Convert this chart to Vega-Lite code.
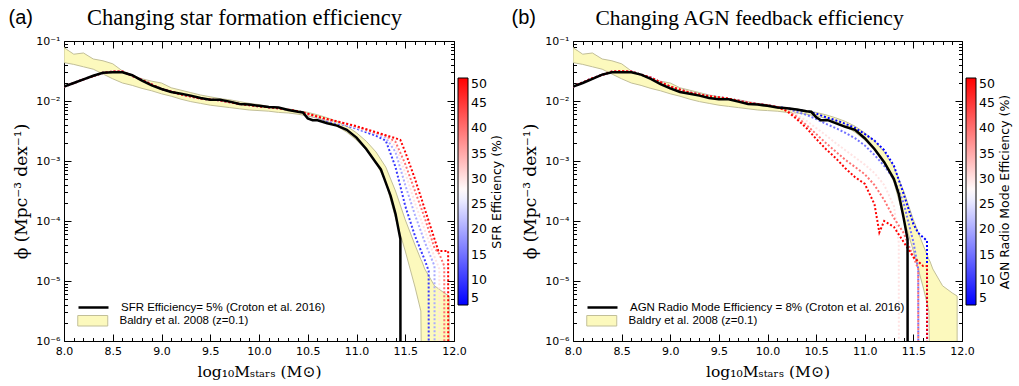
{
  "$schema": "https://vega.github.io/schema/vega-lite/v6.json",
  "background": "white",
  "padding": {"left": 7, "top": 5, "right": 3, "bottom": 5},
  "spacing": 5,
  "config": {
    "view": {"stroke": "black", "strokeWidth": 1},
    "axis": {"grid": false, "domain": false, "tickColor": "black", "labelColor": "black", "titleColor": "black", "labelOverlap": false, "labelFlush": false},
    "legend": {"labelColor": "black", "titleColor": "black", "layout": {"bottom-left": {"direction": "vertical", "margin": 2}}}
  },
  "resolve": {
    "scale": {"color": "independent", "fill": "independent", "stroke": "independent"},
    "legend": {"color": "independent", "fill": "independent", "stroke": "independent"}
  },
  "datasets": {
    "band": [
      {"m": 8.0, "lo": 4.365e-2, "hi": 7.762e-2}, {"m": 8.1, "lo": 4.074e-2, "hi": 6.026e-2}, {"m": 8.2, "lo": 3.715e-2, "hi": 6.310e-2},
      {"m": 8.3, "lo": 3.388e-2, "hi": 5.012e-2}, {"m": 8.4, "lo": 2.818e-2, "hi": 4.677e-2}, {"m": 8.5, "lo": 2.344e-2, "hi": 4.169e-2},
      {"m": 8.6, "lo": 1.995e-2, "hi": 3.162e-2}, {"m": 8.7, "lo": 1.820e-2, "hi": 2.692e-2}, {"m": 8.8, "lo": 1.622e-2, "hi": 2.344e-2},
      {"m": 8.9, "lo": 1.479e-2, "hi": 2.138e-2}, {"m": 9.0, "lo": 1.318e-2, "hi": 1.995e-2}, {"m": 9.1, "lo": 1.202e-2, "hi": 1.660e-2},
      {"m": 9.2, "lo": 1.072e-2, "hi": 1.514e-2}, {"m": 9.3, "lo": 9.772e-3, "hi": 1.380e-2}, {"m": 9.4, "lo": 9.120e-3, "hi": 1.259e-2},
      {"m": 9.5, "lo": 8.511e-3, "hi": 1.175e-2}, {"m": 9.6, "lo": 8.128e-3, "hi": 1.096e-2}, {"m": 9.7, "lo": 7.762e-3, "hi": 1.047e-2},
      {"m": 9.8, "lo": 7.413e-3, "hi": 9.772e-3}, {"m": 9.9, "lo": 7.079e-3, "hi": 9.120e-3}, {"m": 10.0, "lo": 6.918e-3, "hi": 8.710e-3},
      {"m": 10.1, "lo": 6.761e-3, "hi": 8.128e-3}, {"m": 10.2, "lo": 6.457e-3, "hi": 7.762e-3}, {"m": 10.3, "lo": 6.310e-3, "hi": 7.413e-3},
      {"m": 10.4, "lo": 6.026e-3, "hi": 6.918e-3}, {"m": 10.5, "lo": 5.623e-3, "hi": 6.457e-3}, {"m": 10.6, "lo": 5.129e-3, "hi": 5.888e-3},
      {"m": 10.7, "lo": 4.571e-3, "hi": 5.248e-3}, {"m": 10.8, "lo": 3.802e-3, "hi": 4.571e-3}, {"m": 10.9, "lo": 3.020e-3, "hi": 3.802e-3},
      {"m": 11.0, "lo": 2.239e-3, "hi": 2.951e-3}, {"m": 11.1, "lo": 1.514e-3, "hi": 2.138e-3}, {"m": 11.2, "lo": 9.333e-4, "hi": 1.413e-3},
      {"m": 11.3, "lo": 4.467e-4, "hi": 7.943e-4}, {"m": 11.4, "lo": 1.122e-4, "hi": 3.162e-4}, {"m": 11.5, "lo": 3.162e-5, "hi": 1.047e-4},
      {"m": 11.6, "lo": 7.943e-6, "hi": 3.981e-5}, {"m": 11.66, "lo": 3.162e-6, "hi": 2.291e-5}, {"m": 11.67, "lo": 1e-7, "hi": 2.138e-5},
      {"m": 11.7, "lo": 1e-7, "hi": 1.585e-5}, {"m": 11.8, "lo": 1e-7, "hi": 8.318e-6}, {"m": 11.9, "lo": 1e-7, "hi": 6.310e-6},
      {"m": 11.95, "lo": 1e-7, "hi": 5.623e-6}
    ],
    "sfr_black": [
      {"m": 8.0, "phi": 1.738e-2}, {"m": 8.1, "phi": 1.995e-2}, {"m": 8.2, "phi": 2.291e-2}, {"m": 8.3, "phi": 2.630e-2},
      {"m": 8.4, "phi": 2.951e-2}, {"m": 8.5, "phi": 3.020e-2}, {"m": 8.6, "phi": 3.020e-2}, {"m": 8.7, "phi": 2.692e-2},
      {"m": 8.8, "phi": 2.188e-2}, {"m": 8.9, "phi": 1.820e-2}, {"m": 9.0, "phi": 1.585e-2}, {"m": 9.1, "phi": 1.413e-2},
      {"m": 9.2, "phi": 1.318e-2}, {"m": 9.3, "phi": 1.230e-2}, {"m": 9.4, "phi": 1.122e-2}, {"m": 9.5, "phi": 1.047e-2},
      {"m": 9.6, "phi": 1.047e-2}, {"m": 9.7, "phi": 9.772e-3}, {"m": 9.8, "phi": 8.913e-3}, {"m": 9.9, "phi": 8.710e-3},
      {"m": 10.0, "phi": 8.318e-3}, {"m": 10.1, "phi": 7.943e-3}, {"m": 10.2, "phi": 7.762e-3}, {"m": 10.3, "phi": 7.079e-3},
      {"m": 10.4, "phi": 6.607e-3}, {"m": 10.45, "phi": 6.457e-3}, {"m": 10.5, "phi": 5.129e-3}, {"m": 10.55, "phi": 4.786e-3},
      {"m": 10.6, "phi": 4.786e-3}, {"m": 10.7, "phi": 4.266e-3}, {"m": 10.8, "phi": 3.890e-3}, {"m": 10.9, "phi": 3.311e-3},
      {"m": 11.0, "phi": 2.455e-3}, {"m": 11.1, "phi": 1.585e-3}, {"m": 11.2, "phi": 9.333e-4}, {"m": 11.25, "phi": 7.244e-4},
      {"m": 11.3, "phi": 4.365e-4}, {"m": 11.35, "phi": 2.630e-4}, {"m": 11.4, "phi": 1.318e-4}, {"m": 11.45, "phi": 5.012e-5},
      {"m": 11.451, "phi": 1e-7}
    ],
    "agn_black": [
      {"m": 8.0, "phi": 1.738e-2}, {"m": 8.1, "phi": 1.995e-2}, {"m": 8.2, "phi": 2.344e-2}, {"m": 8.3, "phi": 2.754e-2},
      {"m": 8.4, "phi": 3.020e-2}, {"m": 8.5, "phi": 3.020e-2}, {"m": 8.6, "phi": 3.020e-2}, {"m": 8.7, "phi": 2.754e-2},
      {"m": 8.8, "phi": 2.344e-2}, {"m": 8.9, "phi": 1.905e-2}, {"m": 9.0, "phi": 1.622e-2}, {"m": 9.1, "phi": 1.413e-2},
      {"m": 9.2, "phi": 1.318e-2}, {"m": 9.3, "phi": 1.230e-2}, {"m": 9.4, "phi": 1.122e-2}, {"m": 9.5, "phi": 1.072e-2},
      {"m": 9.6, "phi": 1.072e-2}, {"m": 9.7, "phi": 9.772e-3}, {"m": 9.8, "phi": 8.913e-3}, {"m": 9.9, "phi": 8.710e-3},
      {"m": 10.0, "phi": 8.318e-3}, {"m": 10.1, "phi": 7.762e-3}, {"m": 10.2, "phi": 7.586e-3}, {"m": 10.3, "phi": 7.244e-3},
      {"m": 10.4, "phi": 6.761e-3}, {"m": 10.45, "phi": 6.607e-3}, {"m": 10.5, "phi": 5.370e-3}, {"m": 10.55, "phi": 4.786e-3},
      {"m": 10.62, "phi": 4.786e-3}, {"m": 10.7, "phi": 4.266e-3}, {"m": 10.8, "phi": 3.715e-3}, {"m": 10.9, "phi": 3.311e-3},
      {"m": 11.0, "phi": 2.399e-3}, {"m": 11.1, "phi": 1.585e-3}, {"m": 11.2, "phi": 9.550e-4}, {"m": 11.3, "phi": 5.012e-4},
      {"m": 11.35, "phi": 2.818e-4}, {"m": 11.4, "phi": 1.122e-4}, {"m": 11.44, "phi": 5.012e-5}, {"m": 11.441, "phi": 1e-7}
    ],
    "sfr_lines": [
      {"eff": 10, "m": 8.0, "phi": 1.738e-2}, {"eff": 10, "m": 8.2, "phi": 2.291e-2}, {"eff": 10, "m": 8.4, "phi": 2.951e-2}, {"eff": 10, "m": 8.5, "phi": 3.090e-2},
      {"eff": 10, "m": 8.6, "phi": 3.090e-2}, {"eff": 10, "m": 8.8, "phi": 2.239e-2}, {"eff": 10, "m": 9.0, "phi": 1.585e-2}, {"eff": 10, "m": 9.2, "phi": 1.288e-2},
      {"eff": 10, "m": 9.4, "phi": 1.096e-2}, {"eff": 10, "m": 9.6, "phi": 1.023e-2}, {"eff": 10, "m": 9.8, "phi": 8.913e-3}, {"eff": 10, "m": 10.0, "phi": 8.128e-3},
      {"eff": 10, "m": 10.2, "phi": 7.586e-3}, {"eff": 10, "m": 10.4, "phi": 6.761e-3},
      {"eff": 10, "m": 10.5, "phi": 6.026e-3}, {"eff": 10, "m": 10.6, "phi": 5.370e-3}, {"eff": 10, "m": 10.7, "phi": 4.677e-3}, {"eff": 10, "m": 10.8, "phi": 4.266e-3},
      {"eff": 10, "m": 10.9, "phi": 3.890e-3}, {"eff": 10, "m": 11.0, "phi": 3.467e-3}, {"eff": 10, "m": 11.1, "phi": 3.020e-3}, {"eff": 10, "m": 11.2, "phi": 2.630e-3},
      {"eff": 10, "m": 11.3, "phi": 2.188e-3}, {"eff": 10, "m": 11.4, "phi": 7.943e-4}, {"eff": 10, "m": 11.5, "phi": 1.778e-4}, {"eff": 10, "m": 11.6, "phi": 5.623e-5},
      {"eff": 10, "m": 11.7, "phi": 2.239e-5}, {"eff": 10, "m": 11.74, "phi": 1.479e-5}, {"eff": 10, "m": 11.741, "phi": 1e-7},

      {"eff": 20, "m": 8.0, "phi": 1.738e-2}, {"eff": 20, "m": 8.2, "phi": 2.291e-2}, {"eff": 20, "m": 8.4, "phi": 2.951e-2}, {"eff": 20, "m": 8.5, "phi": 3.090e-2},
      {"eff": 20, "m": 8.6, "phi": 3.090e-2}, {"eff": 20, "m": 8.8, "phi": 2.239e-2}, {"eff": 20, "m": 9.0, "phi": 1.585e-2}, {"eff": 20, "m": 9.2, "phi": 1.288e-2},
      {"eff": 20, "m": 9.4, "phi": 1.096e-2}, {"eff": 20, "m": 9.6, "phi": 1.023e-2}, {"eff": 20, "m": 9.8, "phi": 8.913e-3}, {"eff": 20, "m": 10.0, "phi": 8.128e-3},
      {"eff": 20, "m": 10.2, "phi": 7.586e-3}, {"eff": 20, "m": 10.4, "phi": 6.761e-3},
      {"eff": 20, "m": 10.5, "phi": 6.026e-3}, {"eff": 20, "m": 10.6, "phi": 5.370e-3}, {"eff": 20, "m": 10.7, "phi": 4.786e-3}, {"eff": 20, "m": 10.8, "phi": 4.365e-3},
      {"eff": 20, "m": 10.9, "phi": 3.981e-3}, {"eff": 20, "m": 11.0, "phi": 3.548e-3}, {"eff": 20, "m": 11.1, "phi": 3.162e-3}, {"eff": 20, "m": 11.2, "phi": 2.818e-3},
      {"eff": 20, "m": 11.3, "phi": 2.455e-3}, {"eff": 20, "m": 11.4, "phi": 1.413e-3}, {"eff": 20, "m": 11.5, "phi": 3.981e-4}, {"eff": 20, "m": 11.6, "phi": 1.259e-4},
      {"eff": 20, "m": 11.7, "phi": 4.467e-5}, {"eff": 20, "m": 11.8, "phi": 1.778e-5}, {"eff": 20, "m": 11.801, "phi": 1e-7},

      {"eff": 30, "m": 8.0, "phi": 1.738e-2}, {"eff": 30, "m": 8.2, "phi": 2.291e-2}, {"eff": 30, "m": 8.4, "phi": 2.951e-2}, {"eff": 30, "m": 8.5, "phi": 3.090e-2},
      {"eff": 30, "m": 8.6, "phi": 3.090e-2}, {"eff": 30, "m": 8.8, "phi": 2.239e-2}, {"eff": 30, "m": 9.0, "phi": 1.585e-2}, {"eff": 30, "m": 9.2, "phi": 1.288e-2},
      {"eff": 30, "m": 9.4, "phi": 1.096e-2}, {"eff": 30, "m": 9.6, "phi": 1.023e-2}, {"eff": 30, "m": 9.8, "phi": 8.913e-3}, {"eff": 30, "m": 10.0, "phi": 8.128e-3},
      {"eff": 30, "m": 10.2, "phi": 7.586e-3}, {"eff": 30, "m": 10.4, "phi": 6.761e-3},
      {"eff": 30, "m": 10.5, "phi": 6.026e-3}, {"eff": 30, "m": 10.6, "phi": 5.495e-3}, {"eff": 30, "m": 10.7, "phi": 4.898e-3}, {"eff": 30, "m": 10.8, "phi": 4.467e-3},
      {"eff": 30, "m": 10.9, "phi": 4.074e-3}, {"eff": 30, "m": 11.0, "phi": 3.631e-3}, {"eff": 30, "m": 11.1, "phi": 3.236e-3}, {"eff": 30, "m": 11.2, "phi": 2.884e-3},
      {"eff": 30, "m": 11.3, "phi": 2.570e-3}, {"eff": 30, "m": 11.4, "phi": 1.778e-3}, {"eff": 30, "m": 11.5, "phi": 6.310e-4}, {"eff": 30, "m": 11.6, "phi": 1.995e-4},
      {"eff": 30, "m": 11.7, "phi": 7.079e-5}, {"eff": 30, "m": 11.8, "phi": 2.512e-5}, {"eff": 30, "m": 11.85, "phi": 1.585e-5}, {"eff": 30, "m": 11.851, "phi": 1e-7},

      {"eff": 40, "m": 8.0, "phi": 1.738e-2}, {"eff": 40, "m": 8.2, "phi": 2.291e-2}, {"eff": 40, "m": 8.4, "phi": 2.951e-2}, {"eff": 40, "m": 8.5, "phi": 3.090e-2},
      {"eff": 40, "m": 8.6, "phi": 3.090e-2}, {"eff": 40, "m": 8.8, "phi": 2.239e-2}, {"eff": 40, "m": 9.0, "phi": 1.585e-2}, {"eff": 40, "m": 9.2, "phi": 1.288e-2},
      {"eff": 40, "m": 9.4, "phi": 1.096e-2}, {"eff": 40, "m": 9.6, "phi": 1.023e-2}, {"eff": 40, "m": 9.8, "phi": 8.913e-3}, {"eff": 40, "m": 10.0, "phi": 8.128e-3},
      {"eff": 40, "m": 10.2, "phi": 7.586e-3}, {"eff": 40, "m": 10.4, "phi": 6.761e-3},
      {"eff": 40, "m": 10.5, "phi": 6.026e-3}, {"eff": 40, "m": 10.6, "phi": 5.495e-3}, {"eff": 40, "m": 10.7, "phi": 4.898e-3}, {"eff": 40, "m": 10.8, "phi": 4.571e-3},
      {"eff": 40, "m": 10.9, "phi": 4.169e-3}, {"eff": 40, "m": 11.0, "phi": 3.715e-3}, {"eff": 40, "m": 11.1, "phi": 3.311e-3}, {"eff": 40, "m": 11.2, "phi": 2.951e-3},
      {"eff": 40, "m": 11.3, "phi": 2.630e-3}, {"eff": 40, "m": 11.4, "phi": 2.089e-3}, {"eff": 40, "m": 11.5, "phi": 8.913e-4}, {"eff": 40, "m": 11.6, "phi": 3.162e-4},
      {"eff": 40, "m": 11.7, "phi": 1.122e-4}, {"eff": 40, "m": 11.8, "phi": 3.548e-5}, {"eff": 40, "m": 11.85, "phi": 2.818e-5}, {"eff": 40, "m": 11.9, "phi": 1.778e-5},
      {"eff": 40, "m": 11.901, "phi": 1e-7},

      {"eff": 50, "m": 8.0, "phi": 1.738e-2}, {"eff": 50, "m": 8.2, "phi": 2.291e-2}, {"eff": 50, "m": 8.4, "phi": 2.951e-2}, {"eff": 50, "m": 8.5, "phi": 3.090e-2},
      {"eff": 50, "m": 8.6, "phi": 3.090e-2}, {"eff": 50, "m": 8.8, "phi": 2.239e-2}, {"eff": 50, "m": 9.0, "phi": 1.585e-2}, {"eff": 50, "m": 9.2, "phi": 1.288e-2},
      {"eff": 50, "m": 9.4, "phi": 1.096e-2}, {"eff": 50, "m": 9.6, "phi": 1.023e-2}, {"eff": 50, "m": 9.8, "phi": 8.913e-3}, {"eff": 50, "m": 10.0, "phi": 8.128e-3},
      {"eff": 50, "m": 10.2, "phi": 7.586e-3}, {"eff": 50, "m": 10.4, "phi": 6.761e-3},
      {"eff": 50, "m": 10.5, "phi": 6.166e-3}, {"eff": 50, "m": 10.6, "phi": 5.495e-3}, {"eff": 50, "m": 10.7, "phi": 5.012e-3}, {"eff": 50, "m": 10.8, "phi": 4.571e-3},
      {"eff": 50, "m": 10.9, "phi": 4.169e-3}, {"eff": 50, "m": 11.0, "phi": 3.802e-3}, {"eff": 50, "m": 11.1, "phi": 3.388e-3}, {"eff": 50, "m": 11.2, "phi": 3.020e-3},
      {"eff": 50, "m": 11.3, "phi": 2.692e-3}, {"eff": 50, "m": 11.4, "phi": 2.399e-3}, {"eff": 50, "m": 11.45, "phi": 2.239e-3}, {"eff": 50, "m": 11.5, "phi": 1.413e-3},
      {"eff": 50, "m": 11.6, "phi": 5.012e-4}, {"eff": 50, "m": 11.7, "phi": 1.585e-4}, {"eff": 50, "m": 11.8, "phi": 5.012e-5}, {"eff": 50, "m": 11.84, "phi": 3.162e-5},
      {"eff": 50, "m": 11.94, "phi": 3.162e-5}, {"eff": 50, "m": 11.941, "phi": 1e-7}
    ],
    "agn_lines": [
      {"eff": 5, "m": 8.0, "phi": 1.738e-2}, {"eff": 5, "m": 8.2, "phi": 2.399e-2}, {"eff": 5, "m": 8.4, "phi": 3.090e-2}, {"eff": 5, "m": 8.5, "phi": 3.162e-2},
      {"eff": 5, "m": 8.6, "phi": 3.090e-2}, {"eff": 5, "m": 8.8, "phi": 2.455e-2}, {"eff": 5, "m": 9.0, "phi": 1.738e-2}, {"eff": 5, "m": 9.2, "phi": 1.380e-2},
      {"eff": 5, "m": 9.4, "phi": 1.202e-2}, {"eff": 5, "m": 9.6, "phi": 1.096e-2}, {"eff": 5, "m": 9.8, "phi": 9.333e-3}, {"eff": 5, "m": 10.0, "phi": 8.511e-3},
      {"eff": 5, "m": 10.1, "phi": 7.943e-3},
      {"eff": 5, "m": 10.2, "phi": 7.586e-3}, {"eff": 5, "m": 10.3, "phi": 7.079e-3}, {"eff": 5, "m": 10.4, "phi": 6.761e-3}, {"eff": 5, "m": 10.5, "phi": 6.166e-3},
      {"eff": 5, "m": 10.6, "phi": 5.370e-3}, {"eff": 5, "m": 10.7, "phi": 4.786e-3}, {"eff": 5, "m": 10.8, "phi": 4.169e-3}, {"eff": 5, "m": 10.9, "phi": 3.548e-3},
      {"eff": 5, "m": 11.0, "phi": 2.818e-3}, {"eff": 5, "m": 11.1, "phi": 2.188e-3}, {"eff": 5, "m": 11.2, "phi": 1.514e-3}, {"eff": 5, "m": 11.3, "phi": 8.318e-4},
      {"eff": 5, "m": 11.4, "phi": 2.818e-4}, {"eff": 5, "m": 11.5, "phi": 8.913e-5}, {"eff": 5, "m": 11.55, "phi": 6.310e-5}, {"eff": 5, "m": 11.64, "phi": 4.677e-5},
      {"eff": 5, "m": 11.641, "phi": 1e-7},

      {"eff": 15, "m": 8.0, "phi": 1.738e-2}, {"eff": 15, "m": 8.2, "phi": 2.399e-2}, {"eff": 15, "m": 8.4, "phi": 3.090e-2}, {"eff": 15, "m": 8.5, "phi": 3.162e-2},
      {"eff": 15, "m": 8.6, "phi": 3.090e-2}, {"eff": 15, "m": 8.8, "phi": 2.455e-2}, {"eff": 15, "m": 9.0, "phi": 1.738e-2}, {"eff": 15, "m": 9.2, "phi": 1.380e-2},
      {"eff": 15, "m": 9.4, "phi": 1.202e-2}, {"eff": 15, "m": 9.6, "phi": 1.096e-2}, {"eff": 15, "m": 9.8, "phi": 9.333e-3}, {"eff": 15, "m": 10.0, "phi": 8.511e-3},
      {"eff": 15, "m": 10.1, "phi": 7.943e-3},
      {"eff": 15, "m": 10.2, "phi": 7.413e-3}, {"eff": 15, "m": 10.3, "phi": 6.607e-3}, {"eff": 15, "m": 10.4, "phi": 5.888e-3}, {"eff": 15, "m": 10.5, "phi": 5.012e-3},
      {"eff": 15, "m": 10.6, "phi": 4.169e-3}, {"eff": 15, "m": 10.7, "phi": 3.548e-3}, {"eff": 15, "m": 10.8, "phi": 2.951e-3}, {"eff": 15, "m": 10.9, "phi": 2.399e-3},
      {"eff": 15, "m": 11.0, "phi": 1.820e-3}, {"eff": 15, "m": 11.1, "phi": 1.259e-3}, {"eff": 15, "m": 11.2, "phi": 8.318e-4}, {"eff": 15, "m": 11.3, "phi": 5.012e-4},
      {"eff": 15, "m": 11.4, "phi": 1.995e-4}, {"eff": 15, "m": 11.5, "phi": 4.467e-5}, {"eff": 15, "m": 11.55, "phi": 1.585e-5}, {"eff": 15, "m": 11.551, "phi": 1e-7},

      {"eff": 30, "m": 8.0, "phi": 1.738e-2}, {"eff": 30, "m": 8.2, "phi": 2.399e-2}, {"eff": 30, "m": 8.4, "phi": 3.090e-2}, {"eff": 30, "m": 8.5, "phi": 3.162e-2},
      {"eff": 30, "m": 8.6, "phi": 3.090e-2}, {"eff": 30, "m": 8.8, "phi": 2.455e-2}, {"eff": 30, "m": 9.0, "phi": 1.738e-2}, {"eff": 30, "m": 9.2, "phi": 1.380e-2},
      {"eff": 30, "m": 9.4, "phi": 1.202e-2}, {"eff": 30, "m": 9.6, "phi": 1.096e-2}, {"eff": 30, "m": 9.8, "phi": 9.333e-3}, {"eff": 30, "m": 10.0, "phi": 8.511e-3},
      {"eff": 30, "m": 10.1, "phi": 7.943e-3},
      {"eff": 30, "m": 10.2, "phi": 7.079e-3}, {"eff": 30, "m": 10.3, "phi": 5.888e-3}, {"eff": 30, "m": 10.4, "phi": 4.677e-3}, {"eff": 30, "m": 10.5, "phi": 3.548e-3},
      {"eff": 30, "m": 10.6, "phi": 2.692e-3}, {"eff": 30, "m": 10.7, "phi": 1.995e-3}, {"eff": 30, "m": 10.8, "phi": 1.514e-3}, {"eff": 30, "m": 10.9, "phi": 1.148e-3},
      {"eff": 30, "m": 11.0, "phi": 8.710e-4}, {"eff": 30, "m": 11.1, "phi": 6.310e-4}, {"eff": 30, "m": 11.2, "phi": 3.981e-4}, {"eff": 30, "m": 11.3, "phi": 1.778e-4},
      {"eff": 30, "m": 11.35, "phi": 4.365e-5}, {"eff": 30, "m": 11.351, "phi": 1e-7},

      {"eff": 40, "m": 8.0, "phi": 1.738e-2}, {"eff": 40, "m": 8.2, "phi": 2.399e-2}, {"eff": 40, "m": 8.4, "phi": 3.090e-2}, {"eff": 40, "m": 8.5, "phi": 3.162e-2},
      {"eff": 40, "m": 8.6, "phi": 3.090e-2}, {"eff": 40, "m": 8.8, "phi": 2.455e-2}, {"eff": 40, "m": 9.0, "phi": 1.738e-2}, {"eff": 40, "m": 9.2, "phi": 1.380e-2},
      {"eff": 40, "m": 9.4, "phi": 1.202e-2}, {"eff": 40, "m": 9.6, "phi": 1.096e-2}, {"eff": 40, "m": 9.8, "phi": 9.333e-3}, {"eff": 40, "m": 10.0, "phi": 8.511e-3},
      {"eff": 40, "m": 10.1, "phi": 7.943e-3},
      {"eff": 40, "m": 10.2, "phi": 6.918e-3}, {"eff": 40, "m": 10.3, "phi": 5.495e-3}, {"eff": 40, "m": 10.4, "phi": 3.981e-3}, {"eff": 40, "m": 10.5, "phi": 2.818e-3},
      {"eff": 40, "m": 10.6, "phi": 1.995e-3}, {"eff": 40, "m": 10.7, "phi": 1.445e-3}, {"eff": 40, "m": 10.8, "phi": 1.047e-3}, {"eff": 40, "m": 10.9, "phi": 7.943e-4},
      {"eff": 40, "m": 11.0, "phi": 6.026e-4}, {"eff": 40, "m": 11.1, "phi": 3.981e-4}, {"eff": 40, "m": 11.2, "phi": 2.239e-4}, {"eff": 40, "m": 11.3, "phi": 1.122e-4},
      {"eff": 40, "m": 11.4, "phi": 6.310e-5}, {"eff": 40, "m": 11.5, "phi": 2.512e-5}, {"eff": 40, "m": 11.55, "phi": 1.585e-5}, {"eff": 40, "m": 11.551, "phi": 1e-7},

      {"eff": 50, "m": 8.0, "phi": 1.738e-2}, {"eff": 50, "m": 8.2, "phi": 2.399e-2}, {"eff": 50, "m": 8.4, "phi": 3.090e-2}, {"eff": 50, "m": 8.5, "phi": 3.162e-2},
      {"eff": 50, "m": 8.6, "phi": 3.090e-2}, {"eff": 50, "m": 8.8, "phi": 2.455e-2}, {"eff": 50, "m": 9.0, "phi": 1.738e-2}, {"eff": 50, "m": 9.2, "phi": 1.380e-2},
      {"eff": 50, "m": 9.4, "phi": 1.202e-2}, {"eff": 50, "m": 9.6, "phi": 1.096e-2}, {"eff": 50, "m": 9.8, "phi": 9.333e-3}, {"eff": 50, "m": 10.0, "phi": 8.511e-3},
      {"eff": 50, "m": 10.1, "phi": 7.943e-3},
      {"eff": 50, "m": 10.2, "phi": 6.761e-3}, {"eff": 50, "m": 10.3, "phi": 5.012e-3}, {"eff": 50, "m": 10.4, "phi": 3.548e-3}, {"eff": 50, "m": 10.5, "phi": 2.344e-3},
      {"eff": 50, "m": 10.6, "phi": 1.585e-3}, {"eff": 50, "m": 10.7, "phi": 1.122e-3}, {"eff": 50, "m": 10.8, "phi": 7.586e-4}, {"eff": 50, "m": 10.9, "phi": 5.370e-4},
      {"eff": 50, "m": 11.0, "phi": 4.169e-4}, {"eff": 50, "m": 11.1, "phi": 1.905e-4}, {"eff": 50, "m": 11.15, "phi": 6.457e-5}, {"eff": 50, "m": 11.2, "phi": 1.000e-4},
      {"eff": 50, "m": 11.3, "phi": 7.943e-5}, {"eff": 50, "m": 11.4, "phi": 4.467e-5}, {"eff": 50, "m": 11.5, "phi": 2.512e-5}, {"eff": 50, "m": 11.6, "phi": 1.778e-5},
      {"eff": 50, "m": 11.64, "phi": 1.778e-5}, {"eff": 50, "m": 11.641, "phi": 1e-7}
    ]
  },
  "hconcat": [
    {
      "width": 390,
      "height": 300,
      "layer": [
        {
          "data": {"name": "band"},
          "mark": {"type": "area", "clip": true, "fill": "#fcf9bd", "stroke": "#c2bf98", "strokeWidth": 1},
          "encoding": {
            "x": {"field": "m", "type": "quantitative", "scale": {"domain": [8, 12], "nice": false, "zero": false},
              "axis": {"orient": "bottom", "values": [8,8.1,8.2,8.3,8.4,8.5,8.6,8.7,8.8,8.9,9,9.1,9.2,9.3,9.4,9.5,9.6,9.7,9.8,9.9,10,10.1,10.2,10.3,10.4,10.5,10.6,10.7,10.8,10.9,11,11.1,11.2,11.3,11.4,11.5,11.6,11.7,11.8,11.9,12],
                "labelExpr": "abs(datum.value*2 - round(datum.value*2)) < 0.01 ? format(datum.value, '.1f') : ''",
                "tickSize": {"condition": {"test": "abs(datum.value*2 - round(datum.value*2)) < 0.01", "value": -7}, "value": -3.5},
                "labelFont": "DejaVu Sans", "labelFontSize": 11, "labelPadding": 11,
                "title": "log₁₀Mₛₜₐᵣₛ (M⊙)", "titleFont": "DejaVu Serif", "titleFontSize": 15.5, "titleFontWeight": "normal", "titlePadding": 5}},
            "y": {"field": "lo", "type": "quantitative", "scale": {"type": "log", "domain": [1e-6, 0.1], "nice": false},
              "axis": {"orient": "left", "values": [1e-6,2e-6,3e-6,4e-6,5e-6,6e-6,7e-6,8e-6,9e-6,1e-5,2e-5,3e-5,4e-5,5e-5,6e-5,7e-5,8e-5,9e-5,1e-4,2e-4,3e-4,4e-4,5e-4,6e-4,7e-4,8e-4,9e-4,1e-3,2e-3,3e-3,4e-3,5e-3,6e-3,7e-3,8e-3,9e-3,1e-2,2e-2,3e-2,4e-2,5e-2,6e-2,7e-2,8e-2,9e-2,0.1],
                "labelExpr": "abs(log(datum.value)/LN10 - round(log(datum.value)/LN10)) < 0.01 ? '10' + ['⁻⁶','⁻⁵','⁻⁴','⁻³','⁻²','⁻¹'][round(log(datum.value)/LN10)+6] : ''",
                "tickSize": {"condition": {"test": "abs(log(datum.value)/LN10 - round(log(datum.value)/LN10)) < 0.01", "value": -7}, "value": -3.5},
                "labelFont": "DejaVu Sans", "labelFontSize": 11, "labelPadding": 11,
                "title": "ϕ (Mpc⁻³ dex⁻¹)", "titleFont": "DejaVu Serif", "titleFontSize": 17, "titleFontWeight": "normal", "titlePadding": 5}},
            "y2": {"field": "hi"}
          }
        },
        {
          "data": {"name": "sfr_lines"},
          "mark": {"type": "line", "clip": true, "strokeDash": [2, 2], "strokeWidth": 2, "strokeCap": "butt"},
          "encoding": {
            "x": {"field": "m", "type": "quantitative",
              "axis": {"orient": "top", "values": [8,8.1,8.2,8.3,8.4,8.5,8.6,8.7,8.8,8.9,9,9.1,9.2,9.3,9.4,9.5,9.6,9.7,9.8,9.9,10,10.1,10.2,10.3,10.4,10.5,10.6,10.7,10.8,10.9,11,11.1,11.2,11.3,11.4,11.5,11.6,11.7,11.8,11.9,12],
                "labels": false,
                "tickSize": {"condition": {"test": "abs(datum.value*2 - round(datum.value*2)) < 0.01", "value": -7}, "value": -3.5},
                "title": "Changing star formation efficiency", "titleFont": "Liberation Serif", "titleFontSize": 22.5, "titleFontWeight": "normal",
                "titleX": 180, "titleY": -17, "titleAlign": "center", "titleBaseline": "alphabetic"}},
            "y": {"field": "phi", "type": "quantitative",
              "axis": {"orient": "right", "values": [1e-6,2e-6,3e-6,4e-6,5e-6,6e-6,7e-6,8e-6,9e-6,1e-5,2e-5,3e-5,4e-5,5e-5,6e-5,7e-5,8e-5,9e-5,1e-4,2e-4,3e-4,4e-4,5e-4,6e-4,7e-4,8e-4,9e-4,1e-3,2e-3,3e-3,4e-3,5e-3,6e-3,7e-3,8e-3,9e-3,1e-2,2e-2,3e-2,4e-2,5e-2,6e-2,7e-2,8e-2,9e-2,0.1],
                "labels": false,
                "tickSize": {"condition": {"test": "abs(log(datum.value)/LN10 - round(log(datum.value)/LN10)) < 0.01", "value": -7}, "value": -3.5},
                "title": "(a)", "titleAngle": 0, "titleX": -446, "titleY": -18, "titleAlign": "left", "titleBaseline": "alphabetic",
                "titleFont": "Liberation Sans", "titleFontSize": 20, "titleFontWeight": "normal"}},
            "detail": {"field": "eff", "type": "quantitative"},
            "color": {"field": "eff", "type": "quantitative",
              "scale": {"domain": [5, 27.5, 50], "range": ["#0000ff", "#ffffff", "#ff0000"], "interpolate": "rgb"},
              "legend": {"orient": "none", "legendX": 394, "legendY": 37, "direction": "vertical", "gradientLength": 227, "gradientThickness": 10,
                "gradientStrokeColor": "black", "gradientStrokeWidth": 1, "values": [5,10,15,20,25,30,35,40,45,50],
                "labelFont": "DejaVu Sans", "labelFontSize": 12.5, "labelOffset": 3,
                "title": "SFR Efficiency (%)", "titleOrient": "right", "titleAnchor": "middle", "titleFont": "DejaVu Sans", "titleFontSize": 12.5, "titleFontWeight": "normal", "titlePadding": 4, "titleLimit": 400,
                "encode": {"title": {"update": {"angle": {"value": -90}, "baseline": {"value": "top"}}}}}}
          }
        },
        {
          "data": {"name": "sfr_black"},
          "mark": {"type": "line", "clip": true, "strokeWidth": 2.5},
          "encoding": {
            "x": {"field": "m", "type": "quantitative", "axis": null},
            "y": {"field": "phi", "type": "quantitative", "axis": null},
            "stroke": {"datum": "SFR Efficiency= 5% (Croton et al. 2016)", "type": "nominal", "scale": {"range": ["black"]},
              "legend": {"orient": "bottom-left", "offset": 13, "title": null, "symbolType": "M-1,0H5", "symbolSize": 100, "symbolStrokeWidth": 2.5, "labelFont": "Liberation Sans", "labelFontSize": 11.5, "labelOffset": 31, "labelLimit": 400}}
          }
        },
        {
          "data": {"values": []},
          "mark": {"type": "area", "stroke": "#c2bf98"},
          "encoding": {
            "x": {"field": "m", "type": "quantitative", "axis": null},
            "y": {"field": "lo", "type": "quantitative", "axis": null},
            "fill": {"datum": "Baldry et al. 2008 (z=0.1)", "type": "nominal", "scale": {"range": ["#fcf9bd"]},
              "legend": {"orient": "bottom-left", "offset": 13, "title": null, "symbolType": "M-1,-1.05H5V1.05H-1Z", "symbolSize": 100, "symbolStrokeColor": "#c2bf98", "symbolStrokeWidth": 1, "labelFont": "Liberation Sans", "labelFontSize": 11.5, "labelOffset": 31, "labelLimit": 400}}
          }
        }
      ],
      "resolve": {"axis": {"x": "independent", "y": "independent"}}
    },
    {
      "width": 389,
      "height": 300,
      "layer": [
        {
          "data": {"name": "band"},
          "mark": {"type": "area", "clip": true, "fill": "#fcf9bd", "stroke": "#c2bf98", "strokeWidth": 1},
          "encoding": {
            "x": {"field": "m", "type": "quantitative", "scale": {"domain": [8, 12], "nice": false, "zero": false},
              "axis": {"orient": "bottom", "values": [8,8.1,8.2,8.3,8.4,8.5,8.6,8.7,8.8,8.9,9,9.1,9.2,9.3,9.4,9.5,9.6,9.7,9.8,9.9,10,10.1,10.2,10.3,10.4,10.5,10.6,10.7,10.8,10.9,11,11.1,11.2,11.3,11.4,11.5,11.6,11.7,11.8,11.9,12],
                "labelExpr": "abs(datum.value*2 - round(datum.value*2)) < 0.01 ? format(datum.value, '.1f') : ''",
                "tickSize": {"condition": {"test": "abs(datum.value*2 - round(datum.value*2)) < 0.01", "value": -7}, "value": -3.5},
                "labelFont": "DejaVu Sans", "labelFontSize": 11, "labelPadding": 11,
                "title": "log₁₀Mₛₜₐᵣₛ (M⊙)", "titleFont": "DejaVu Serif", "titleFontSize": 15.5, "titleFontWeight": "normal", "titlePadding": 5}},
            "y": {"field": "lo", "type": "quantitative", "scale": {"type": "log", "domain": [1e-6, 0.1], "nice": false},
              "axis": {"orient": "left", "values": [1e-6,2e-6,3e-6,4e-6,5e-6,6e-6,7e-6,8e-6,9e-6,1e-5,2e-5,3e-5,4e-5,5e-5,6e-5,7e-5,8e-5,9e-5,1e-4,2e-4,3e-4,4e-4,5e-4,6e-4,7e-4,8e-4,9e-4,1e-3,2e-3,3e-3,4e-3,5e-3,6e-3,7e-3,8e-3,9e-3,1e-2,2e-2,3e-2,4e-2,5e-2,6e-2,7e-2,8e-2,9e-2,0.1],
                "labelExpr": "abs(log(datum.value)/LN10 - round(log(datum.value)/LN10)) < 0.01 ? '10' + ['⁻⁶','⁻⁵','⁻⁴','⁻³','⁻²','⁻¹'][round(log(datum.value)/LN10)+6] : ''",
                "tickSize": {"condition": {"test": "abs(log(datum.value)/LN10 - round(log(datum.value)/LN10)) < 0.01", "value": -7}, "value": -3.5},
                "labelFont": "DejaVu Sans", "labelFontSize": 11, "labelPadding": 11,
                "title": "ϕ (Mpc⁻³ dex⁻¹)", "titleFont": "DejaVu Serif", "titleFontSize": 17, "titleFontWeight": "normal", "titlePadding": 5}},
            "y2": {"field": "hi"}
          }
        },
        {
          "data": {"name": "agn_lines"},
          "mark": {"type": "line", "clip": true, "strokeDash": [2, 2], "strokeWidth": 2, "strokeCap": "butt"},
          "encoding": {
            "x": {"field": "m", "type": "quantitative",
              "axis": {"orient": "top", "values": [8,8.1,8.2,8.3,8.4,8.5,8.6,8.7,8.8,8.9,9,9.1,9.2,9.3,9.4,9.5,9.6,9.7,9.8,9.9,10,10.1,10.2,10.3,10.4,10.5,10.6,10.7,10.8,10.9,11,11.1,11.2,11.3,11.4,11.5,11.6,11.7,11.8,11.9,12],
                "labels": false,
                "tickSize": {"condition": {"test": "abs(datum.value*2 - round(datum.value*2)) < 0.01", "value": -7}, "value": -3.5},
                "title": "Changing AGN feedback efficiency", "titleFont": "Liberation Serif", "titleFontSize": 21.5, "titleFontWeight": "normal",
                "titleX": 176, "titleY": -17, "titleAlign": "center", "titleBaseline": "alphabetic"}},
            "y": {"field": "phi", "type": "quantitative",
              "axis": {"orient": "right", "values": [1e-6,2e-6,3e-6,4e-6,5e-6,6e-6,7e-6,8e-6,9e-6,1e-5,2e-5,3e-5,4e-5,5e-5,6e-5,7e-5,8e-5,9e-5,1e-4,2e-4,3e-4,4e-4,5e-4,6e-4,7e-4,8e-4,9e-4,1e-3,2e-3,3e-3,4e-3,5e-3,6e-3,7e-3,8e-3,9e-3,1e-2,2e-2,3e-2,4e-2,5e-2,6e-2,7e-2,8e-2,9e-2,0.1],
                "labels": false,
                "tickSize": {"condition": {"test": "abs(log(datum.value)/LN10 - round(log(datum.value)/LN10)) < 0.01", "value": -7}, "value": -3.5},
                "title": "(b)", "titleAngle": 0, "titleX": -451, "titleY": -18, "titleAlign": "left", "titleBaseline": "alphabetic",
                "titleFont": "Liberation Sans", "titleFontSize": 20, "titleFontWeight": "normal"}},
            "detail": {"field": "eff", "type": "quantitative"},
            "color": {"field": "eff", "type": "quantitative",
              "scale": {"domain": [5, 27.5, 50], "range": ["#0000ff", "#ffffff", "#ff0000"], "interpolate": "rgb"},
              "legend": {"orient": "none", "legendX": 393, "legendY": 37, "direction": "vertical", "gradientLength": 227, "gradientThickness": 10,
                "gradientStrokeColor": "black", "gradientStrokeWidth": 1, "values": [5,10,15,20,25,30,35,40,45,50],
                "labelFont": "DejaVu Sans", "labelFontSize": 12.5, "labelOffset": 3,
                "title": "AGN Radio Mode Efficiency (%)", "titleOrient": "right", "titleAnchor": "middle", "titleFont": "DejaVu Sans", "titleFontSize": 12.5, "titleFontWeight": "normal", "titlePadding": 4, "titleLimit": 400,
                "encode": {"title": {"update": {"angle": {"value": -90}, "baseline": {"value": "top"}}}}}}
          }
        },
        {
          "data": {"name": "agn_black"},
          "mark": {"type": "line", "clip": true, "strokeWidth": 2.5},
          "encoding": {
            "x": {"field": "m", "type": "quantitative", "axis": null},
            "y": {"field": "phi", "type": "quantitative", "axis": null},
            "stroke": {"datum": "AGN Radio Mode Efficiency = 8% (Croton et al. 2016)", "type": "nominal", "scale": {"range": ["black"]},
              "legend": {"orient": "bottom-left", "offset": 13, "title": null, "symbolType": "M-1,0H5", "symbolSize": 100, "symbolStrokeWidth": 2.5, "labelFont": "Liberation Sans", "labelFontSize": 11.5, "labelOffset": 31, "labelLimit": 400}}
          }
        },
        {
          "data": {"values": []},
          "mark": {"type": "area", "stroke": "#c2bf98"},
          "encoding": {
            "x": {"field": "m", "type": "quantitative", "axis": null},
            "y": {"field": "lo", "type": "quantitative", "axis": null},
            "fill": {"datum": "Baldry et al. 2008 (z=0.1)", "type": "nominal", "scale": {"range": ["#fcf9bd"]},
              "legend": {"orient": "bottom-left", "offset": 13, "title": null, "symbolType": "M-1,-1.05H5V1.05H-1Z", "symbolSize": 100, "symbolStrokeColor": "#c2bf98", "symbolStrokeWidth": 1, "labelFont": "Liberation Sans", "labelFontSize": 11.5, "labelOffset": 31, "labelLimit": 400}}
          }
        }
      ],
      "resolve": {"axis": {"x": "independent", "y": "independent"}}
    }
  ]
}
